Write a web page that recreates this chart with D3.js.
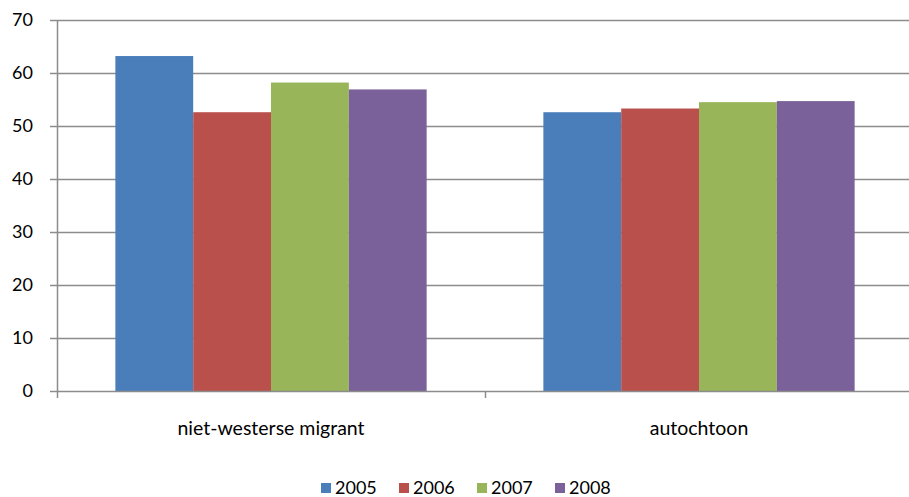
<!DOCTYPE html>
<html>
<head>
<meta charset="utf-8">
<script src="https://cdn.jsdelivr.net/npm/d3@7"></script>
<style>
  body { margin: 0; background: #fff; }
  text { font-family: Lato, "Open Sans", sans-serif; fill: #000; }
</style>
</head>
<body>
<svg id="chart"></svg>
<script>
const categories = ["niet-westerse migrant", "autochtoon"];
const years = ["2005", "2006", "2007", "2008"];
const values2005 = [63.2, 52.6];
const values2006 = [52.6, 53.3];
const values2007 = [58.2, 54.5];
const values2008 = [56.9, 54.7];
const yTicks = [0, 10, 20, 30, 40, 50, 60, 70];
const colors = ["#4A7EBB", "#BA504C", "#98B55A", "#7B619A"];

const series = [values2005, values2006, values2007, values2008];

const width = 909, height = 497;
const margin = {top: 20, right: -4, bottom: 106, left: 57};

const svg = d3.select("#chart")
    .attr("width", width)
    .attr("height", height);

const y = d3.scaleLinear()
    .domain([0, 70])
    .range([height - margin.bottom, margin.top]);

const x0 = d3.scaleBand()
    .domain(categories)
    .range([margin.left, width - margin.right])
    .padding(0);

const x1 = d3.scaleBand()
    .domain(years)
    .range([0, x0.bandwidth()])
    .paddingInner(0)
    .paddingOuter(0.75);

// gridlines
svg.append("g")
    .selectAll("line")
    .data(yTicks.filter(d => d > 0))
    .enter().append("line")
    .attr("x1", margin.left - 7)
    .attr("x2", width)
    .attr("y1", d => Math.round(y(d)) + 0.5)
    .attr("y2", d => Math.round(y(d)) + 0.5)
    .attr("stroke", "#8c8c8c")
    .attr("stroke-width", 1.5);

// bars
categories.forEach((c, i) => {
    svg.append("g")
        .selectAll("rect")
        .data(years)
        .enter().append("rect")
        .attr("x", d => x0(c) + x1(d))
        .attr("y", (d, j) => y(series[j][i]))
        .attr("width", x1.bandwidth())
        .attr("height", (d, j) => y(0) - y(series[j][i]))
        .attr("fill", (d, j) => colors[j]);
});

// y axis
const yAxisG = svg.append("g");
yAxisG.append("line")
    .attr("x1", margin.left + 0.5).attr("x2", margin.left + 0.5)
    .attr("y1", y(70)).attr("y2", y(0))
    .attr("stroke", "#8c8c8c").attr("stroke-width", 1.5);
yAxisG.selectAll("text")
    .data(yTicks)
    .enter().append("text")
    .attr("x", 33)
    .attr("y", d => y(d))
    .attr("dy", "0.35em")
    .attr("text-anchor", "end")
    .style("font-size", "18px")
    .text(d => d);
yAxisG.append("line")
    .attr("x1", margin.left - 7).attr("x2", margin.left)
    .attr("y1", Math.round(y(0)) + 0.5).attr("y2", Math.round(y(0)) + 0.5)
    .attr("stroke", "#8c8c8c").attr("stroke-width", 1.5);

// x axis
const xAxisG = svg.append("g");
xAxisG.append("line")
    .attr("x1", margin.left).attr("x2", width)
    .attr("y1", Math.round(y(0)) + 0.5).attr("y2", Math.round(y(0)) + 0.5)
    .attr("stroke", "#8c8c8c").attr("stroke-width", 1.5);
xAxisG.selectAll("line.tick")
    .data(categories.concat(["end"]))
    .enter().append("line")
    .attr("class", "tick")
    .attr("x1", d => (d === "end" ? x0.range()[1] : x0(d)) + 0.5)
    .attr("x2", d => (d === "end" ? x0.range()[1] : x0(d)) + 0.5)
    .attr("y1", y(0))
    .attr("y2", y(0) + 7)
    .attr("stroke", "#8c8c8c").attr("stroke-width", 1.5);
xAxisG.selectAll("text")
    .data(categories)
    .enter().append("text")
    .attr("x", d => x0(d) + x0.bandwidth() / 2)
    .attr("y", 428)
    .attr("dy", "0.35em")
    .attr("text-anchor", "middle")
    .style("font-size", "19.5px")
    .text(d => d);

// legend
const legend = svg.append("g")
    .selectAll("g")
    .data(years)
    .enter().append("g")
    .attr("transform", (d, i) => `translate(${321 + i * 78},488)`);
legend.append("rect")
    .attr("x", 0).attr("y", -5)
    .attr("width", 10).attr("height", 10)
    .attr("fill", (d, i) => colors[i]);
legend.append("text")
    .attr("x", 14)
    .attr("y", 0)
    .attr("dy", "0.35em")
    .style("font-size", "18px")
    .text(d => d);
</script>
</body>
</html>
